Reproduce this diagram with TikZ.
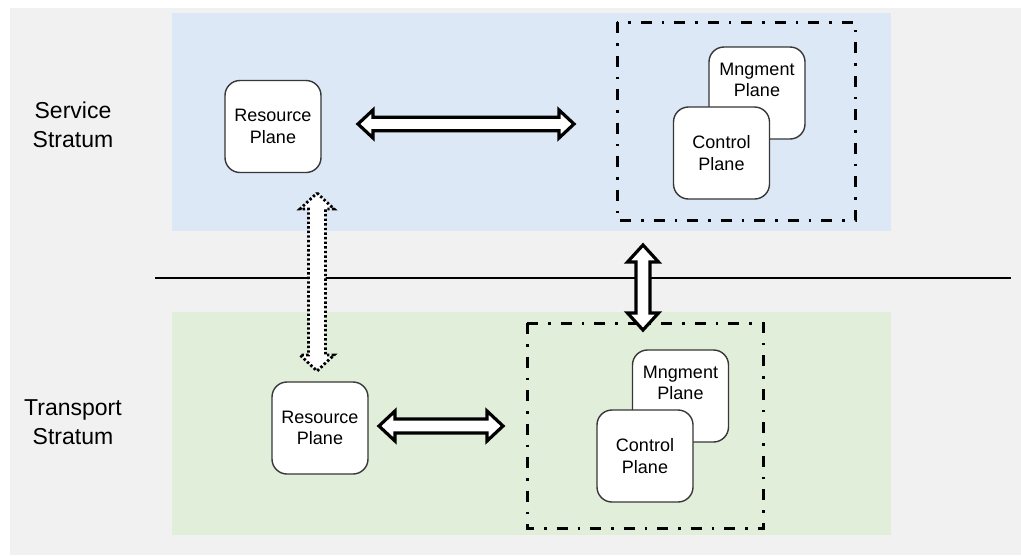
\documentclass[tikz,border=0pt]{standalone}
\usepackage{fontspec}
\setmainfont{Liberation Sans}
\usetikzlibrary{calc}
\definecolor{bggray}{RGB}{241,241,241}
\definecolor{svcblue}{RGB}{220,232,245}
\definecolor{trgreen}{RGB}{225,238,217}
\definecolor{boxline}{RGB}{55,55,55}
\tikzset{
  plane/.style={draw=boxline, line width=1.4pt, fill=white, rounded corners=15pt,
    minimum width=96pt, minimum height=92pt, inner sep=0pt, align=center,
    font=\fontsize{18}{21.5}\selectfont},
  toptext/.style={anchor=north, inner sep=0pt, yshift=-16.3pt, align=center,
    font=\fontsize{18}{21.5}\selectfont},
  group/.style={draw=black, line width=3pt,
    dash pattern=on 11pt off 10pt on 2.5pt off 10pt},
  stratum/.style={align=center, font=\fontsize{23}{29}\selectfont},
  solidarrow/.style={draw=black, fill=white, line width=3.2pt, line join=miter},
  dotarrow/.style={draw=black, fill=white, line width=2.8pt,
    dash pattern=on 2.4pt off 2.2pt},
  fatarrow/.style n args={3}{to path={
    -- ($(\tikztostart)!#3!(\tikztotarget)!#2!90:(\tikztotarget)$)
    -- ($(\tikztostart)!#3!(\tikztotarget)!#1!90:(\tikztotarget)$)
    -- ($(\tikztotarget)!#3!(\tikztostart)!#1!-90:(\tikztostart)$)
    -- ($(\tikztotarget)!#3!(\tikztostart)!#2!-90:(\tikztostart)$)
    -- (\tikztotarget)
    -- ($(\tikztotarget)!#3!(\tikztostart)!#2!90:(\tikztostart)$)
    -- ($(\tikztotarget)!#3!(\tikztostart)!#1!90:(\tikztostart)$)
    -- ($(\tikztostart)!#3!(\tikztotarget)!#1!-90:(\tikztotarget)$)
    -- ($(\tikztostart)!#3!(\tikztotarget)!#2!-90:(\tikztotarget)$)
    -- cycle}},
}
\begin{document}
\begin{tikzpicture}[x=1pt, y=-1pt]
  \useasboundingbox (0,0) rectangle (1021,555);
  % backgrounds
  \fill[bggray] (10,8) rectangle (1021,555);
  \fill[svcblue] (172,13) rectangle (891,231);
  \fill[trgreen] (172,312) rectangle (891,535);
  % stratum labels
  \node[stratum] (svc) at (73,124.5) {Service\\Stratum};
  \node[stratum] (trp) at (73,422.5) {Transport\\Stratum};
  % separator
  \coordinate (sepL) at (155,278);
  \coordinate (sepR) at (1011,278);
  \draw[line width=2.8pt] (sepL) -- (sepR);
  % groups
  \draw[group] (617,22) rectangle (855,220);
  \draw[group] (527,323) rectangle (763,528);
  % boxes
  \node[plane] (rp1) at (273,126.5) {Resource\\Plane};
  \node[plane] (mp1) at (757,93) {};
  \node[toptext] (mp1t) at (mp1.north) {Mngment\\Plane};
  \node[plane] (cp1) at (721.5,153) {Control\\Plane};
  \node[plane] (rp2) at (320,428) {Resource\\Plane};
  \node[plane] (mp2) at (680.5,396) {};
  \node[toptext] (mp2t) at (mp2.north) {Mngment\\Plane};
  \node[plane] (cp2) at (645,456) {Control\\Plane};
  % arrows
  \coordinate (h1a) at (358,124);
  \coordinate (h1b) at (574,124);
  \draw[solidarrow, fatarrow={6.8pt}{14pt}{15pt}] (h1a) to (h1b);
  \coordinate (h2a) at (379,426);
  \coordinate (h2b) at (503,426);
  \draw[solidarrow, fatarrow={7pt}{15pt}{16pt}] (h2a) to (h2b);
  \coordinate (v1a) at (643,245);
  \coordinate (v1b) at (643,330);
  \draw[solidarrow, fatarrow={7pt}{15.5pt}{17pt}] (v1a) to (v1b);
  \coordinate (d1a) at (317,193);
  \coordinate (d1b) at (317,371);
  \draw[dotarrow, fatarrow={8.5pt}{17pt}{16pt}] (d1a) to (d1b);
\end{tikzpicture}
\end{document}
